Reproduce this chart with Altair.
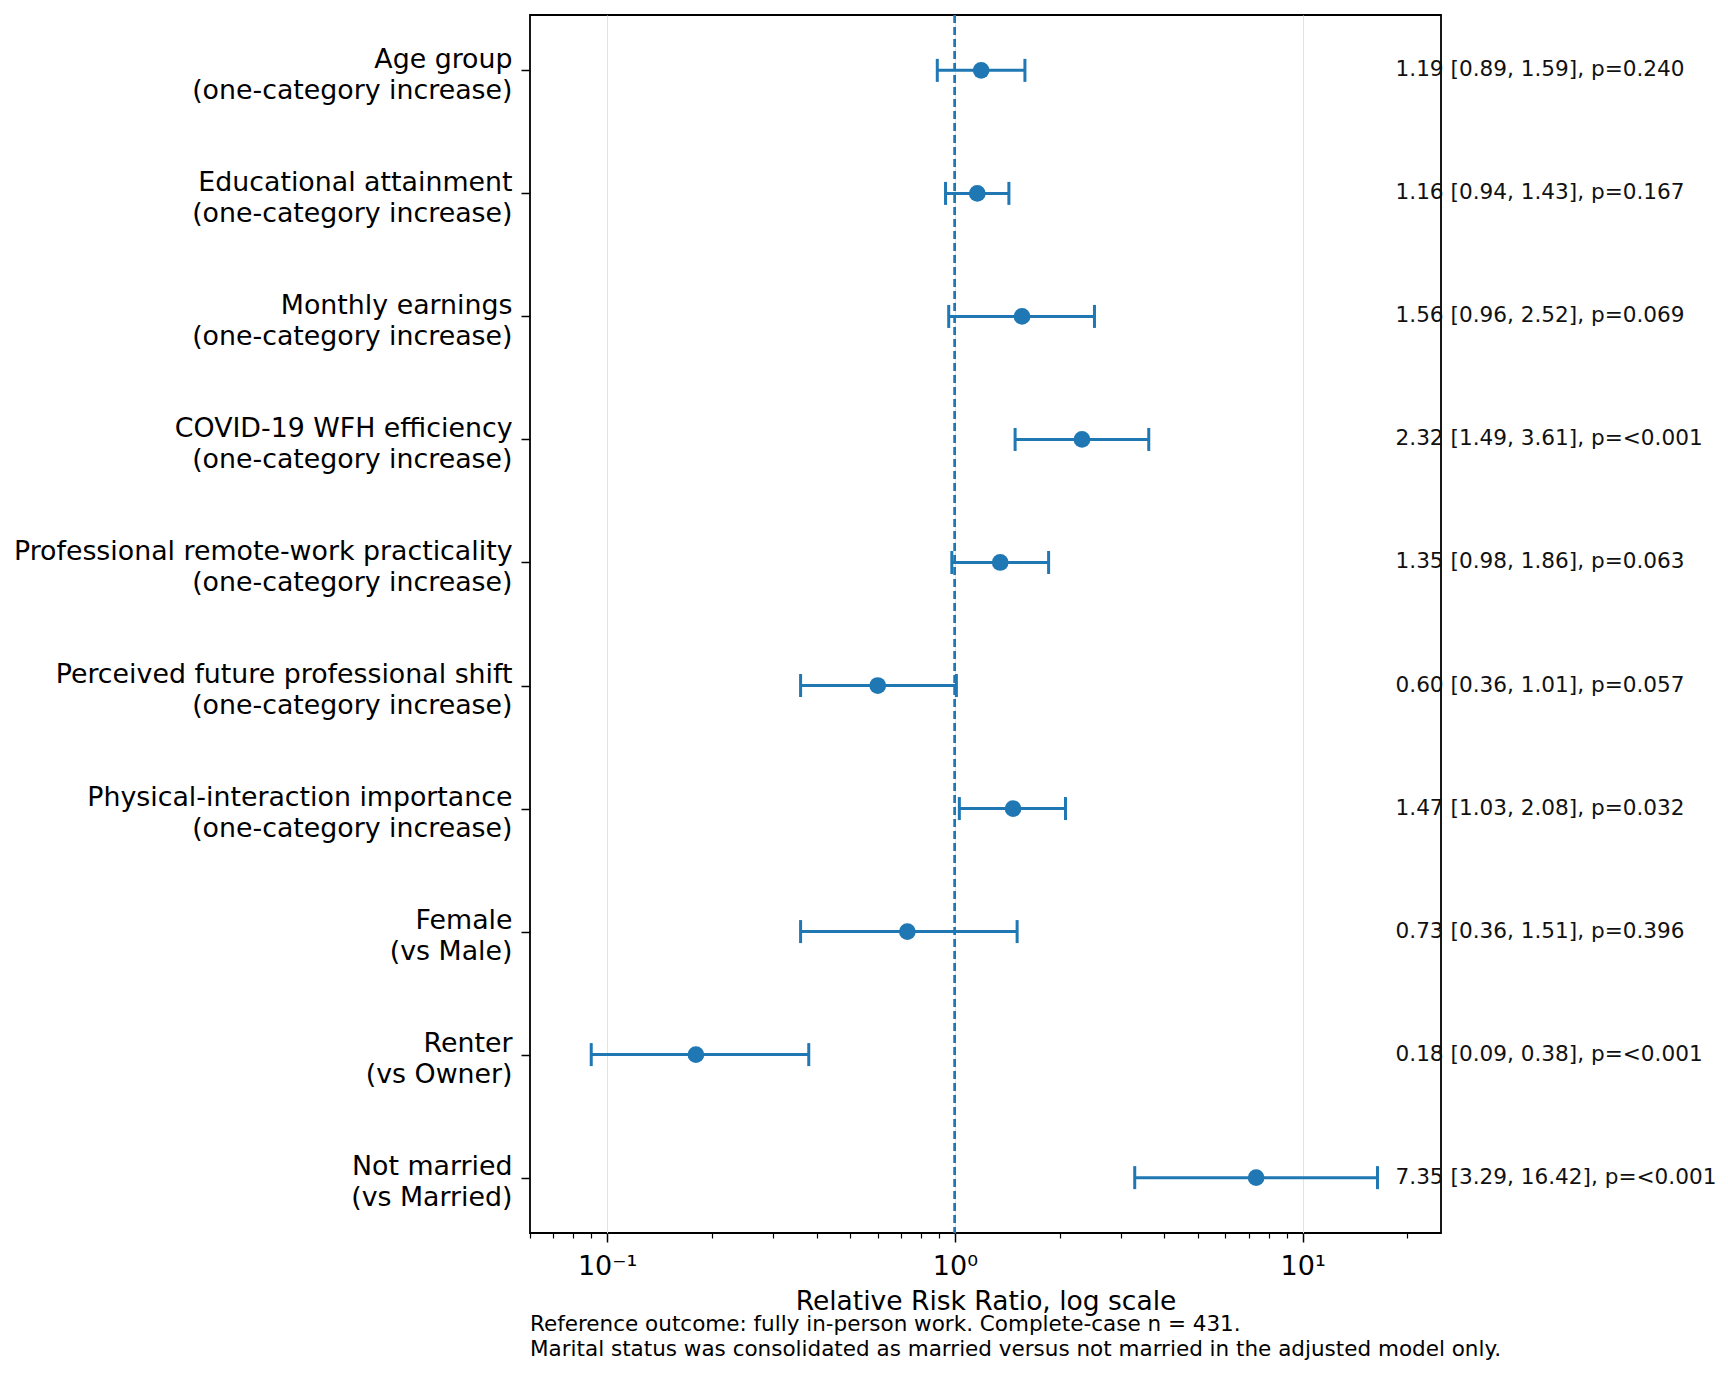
import altair as alt
import pandas as pd

names = [
    "Age group",
    "Educational attainment",
    "Monthly earnings",
    "COVID-19 WFH efficiency",
    "Professional remote-work practicality",
    "Perceived future professional shift",
    "Physical-interaction importance",
    "Female",
    "Renter",
    "Not married",
]
subs = [
    "(one-category increase)",
    "(one-category increase)",
    "(one-category increase)",
    "(one-category increase)",
    "(one-category increase)",
    "(one-category increase)",
    "(one-category increase)",
    "(vs Male)",
    "(vs Owner)",
    "(vs Married)",
]
rr = [1.19, 1.16, 1.56, 2.32, 1.35, 0.60, 1.47, 0.73, 0.18, 7.35]
lo = [0.89, 0.94, 0.96, 1.49, 0.98, 0.36, 1.03, 0.36, 0.09, 3.29]
hi = [1.59, 1.43, 2.52, 3.61, 1.86, 1.01, 2.08, 1.51, 0.38, 16.42]
pvals = ["0.240", "0.167", "0.069", "<0.001", "0.063", "0.057", "0.032", "0.396", "<0.001", "<0.001"]

major_ticks = [0.1, 1, 10]
minor_ticks = [0.06, 0.07, 0.08, 0.09, 0.2, 0.3, 0.4, 0.5, 0.6, 0.7, 0.8, 0.9,
               2, 3, 4, 5, 6, 7, 8, 9, 20]
x_domain = [0.06, 25]
ref_value = 1
ann_x = 18.5
caption = ["Reference outcome: fully in-person work. Complete-case n = 431.",
           "Marital status was consolidated as married versus not married in the adjusted model only."]
x_title = "Relative Risk Ratio, log scale"

keys = [f"{n}|{s}" for n, s in zip(names, subs)]
df = pd.DataFrame({
    "key": keys, "rr": rr, "lo": lo, "hi": hi,
    "ann": [f"{r:.2f} [{l:.2f}, {h:.2f}], p={p}" for r, l, h, p in zip(rr, lo, hi, pvals)],
})

BLUE = "#1f77b4"
FONT = "DejaVu Sans"

xscale = alt.Scale(type="log", domain=x_domain, nice=False, zero=False)
yscale = alt.Scale(type="point", domain=keys, padding=0.45)

major_axis = alt.Axis(
    values=major_ticks, grid=True, gridColor="#e3e3e3", gridWidth=1,
    labelExpr="datum.value < 0.5 ? '10⁻¹' : (datum.value < 5 ? '10⁰' : '10¹')",
    labelFontSize=27, labelColor="#000", labelFont=FONT, labelPadding=11,
    tickSize=9, tickWidth=1.5, tickColor="#000", domain=False,
    title=x_title, titleFontSize=26.5, titleFont=FONT, titleFontWeight="normal",
    titleColor="#000", titlePadding=9, orient="bottom",
)
minor_axis = alt.Axis(
    values=minor_ticks, grid=False, labels=False, tickSize=5, tickWidth=1.2,
    tickColor="#000", domain=False, title=None, orient="bottom",
)
y_axis = alt.Axis(
    title=None, labelExpr="split(datum.label, '|')", labelFontSize=26.8,
    labelFont=FONT, labelColor="#000", labelLineHeight=31, labelPadding=9,
    labelLimit=1000, tickSize=9, tickWidth=1.5, tickColor="#000", domain=False,
    grid=False, labelBaseline="middle", labelOffset=-11,
)

base = alt.Chart(df)
Y = alt.Y("key:N", scale=yscale, axis=y_axis)

bars = base.mark_rule(color=BLUE, strokeWidth=3).encode(
    x=alt.X("lo:Q", scale=xscale, axis=major_axis),
    x2="hi:Q",
    y=Y,
)
ref = base.mark_rule(color=BLUE, strokeWidth=2, strokeDash=[8, 4]).encode(
    x=alt.datum(ref_value, scale=xscale, axis=minor_axis),
)
cap_lo = base.mark_tick(color=BLUE, thickness=3, size=23, opacity=1).encode(
    x=alt.X("lo:Q", scale=xscale, axis=None),
    y=Y,
)
cap_hi = base.mark_tick(color=BLUE, thickness=3, size=23, opacity=1).encode(
    x=alt.X("hi:Q", scale=xscale, axis=None),
    y=Y,
)
pts = base.mark_circle(color=BLUE, size=280, opacity=1).encode(
    x=alt.X("rr:Q", scale=xscale, axis=None),
    y=Y,
)
ann = base.mark_text(align="left", baseline="middle", fontSize=21.6, font=FONT, color="#111").encode(
    x=alt.datum(ann_x, scale=xscale, axis=None),
    y=Y,
    text="ann:N",
)
cap_df = pd.DataFrame({"t": ["\n".join(caption)]})
cap_text = alt.Chart(cap_df).mark_text(
    align="left", baseline="alphabetic", fontSize=21.5, font=FONT, color="#000",
    lineBreak="\n", lineHeight=25,
).encode(x=alt.value(0), y=alt.value(1316), text="t:N")

chart = alt.layer(bars, ref, cap_lo, cap_hi, pts, ann, cap_text).resolve_axis(
    x="independent"
).properties(
    width=911, height=1218,
    padding={"left": 530, "top": 15, "right": 287, "bottom": 141},
    autosize="none",
).configure(font=FONT).configure_view(stroke="#000", strokeWidth=1.8)

chart.save("out.html", embed_options={"renderer": "svg", "actions": False})
